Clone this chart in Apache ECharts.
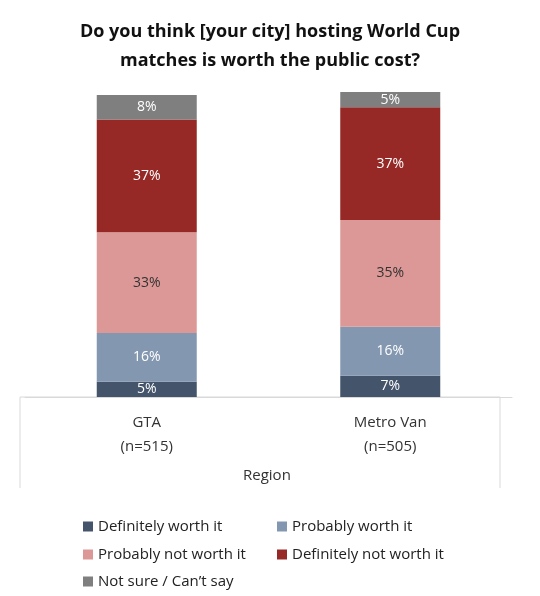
<!DOCTYPE html>
<html><head><meta charset="utf-8">
<script src="https://cdn.jsdelivr.net/npm/echarts@6/dist/echarts.min.js"></script>
<style>html,body{margin:0;background:#fff}#c{width:540px;height:596px}</style>
</head><body><div id="c"></div>
<script>
var regions = ['GTA\n(n=515)', 'Metro Van\n(n=505)'];
var seriesNames = ['Definitely worth it', 'Probably worth it', 'Probably not worth it', 'Definitely not worth it', 'Not sure / Can\u2019t say'];
var defWorth = [5, 7];
var probWorth = [16, 16];
var probNot = [33, 35];
var defNot = [37, 37];
var notSure = [8, 5];
var colors = ['#44546a', '#8497b0', '#dc9896', '#962925', '#7f7f7f'];
var labelColors = ['#fff', '#fff', '#333', '#fff', '#fff'];

var allData = [defWorth, probWorth, probNot, defNot, notSure];
var font = '"Open Sans", sans-serif';
var series = allData.map(function (d, i) {
	return {
		name: seriesNames[i], type: 'bar', stack: 'all', barWidth: 100,
		data: d, itemStyle: { color: colors[i] },
		label: { show: true, formatter: '{c}%', color: labelColors[i], fontSize: 14, fontFamily: font }
	};
});
// legend positions, two columns
var legPos = [[78, 514], [272, 514], [78, 542], [272, 542], [78, 569]];
var legends = seriesNames.map(function (n, i) {
	return {
		data: [n], left: legPos[i][0], top: legPos[i][1], itemWidth: 10, itemHeight: 10,
		icon: 'rect', textStyle: { fontSize: 15, color: '#222', fontFamily: font }, itemGap: 4
	};
});

var myChart = echarts.init(document.getElementById('c'));
myChart.setOption({
	animation: false,
	title: {
		text: 'Do you think [your city] hosting World Cup\nmatches is worth the public cost?',
		left: 'center', top: 12,
		textStyle: { fontSize: 18, fontWeight: 'bold', color: '#111', lineHeight: 29, fontFamily: font }
	},
	legend: legends,
	grid: { left: 25, right: 28, top: 92, bottom: 199 },
	xAxis: {
		type: 'category', data: regions,
		axisLine: { lineStyle: { color: '#d9d9d9' } }, axisTick: { show: false },
		axisLabel: { fontSize: 15, color: '#333', lineHeight: 24, margin: 14, fontFamily: font }
	},
	yAxis: { type: 'value', min: 0, max: 100, show: false },
	graphic: [
		{ type: 'line', shape: { x1: 20, y1: 397, x2: 500, y2: 397 }, style: { stroke: '#d9d9d9', lineWidth: 1 } },
		{ type: 'line', shape: { x1: 20, y1: 397, x2: 20, y2: 488 }, style: { stroke: '#d9d9d9', lineWidth: 1 } },
		{ type: 'line', shape: { x1: 500, y1: 397, x2: 500, y2: 488 }, style: { stroke: '#d9d9d9', lineWidth: 1 } },
		{ type: 'text', left: 243, top: 468, style: { text: 'Region', fontSize: 15, fill: '#333', fontFamily: font } }
	],
	series: series
});
</script></body></html>
